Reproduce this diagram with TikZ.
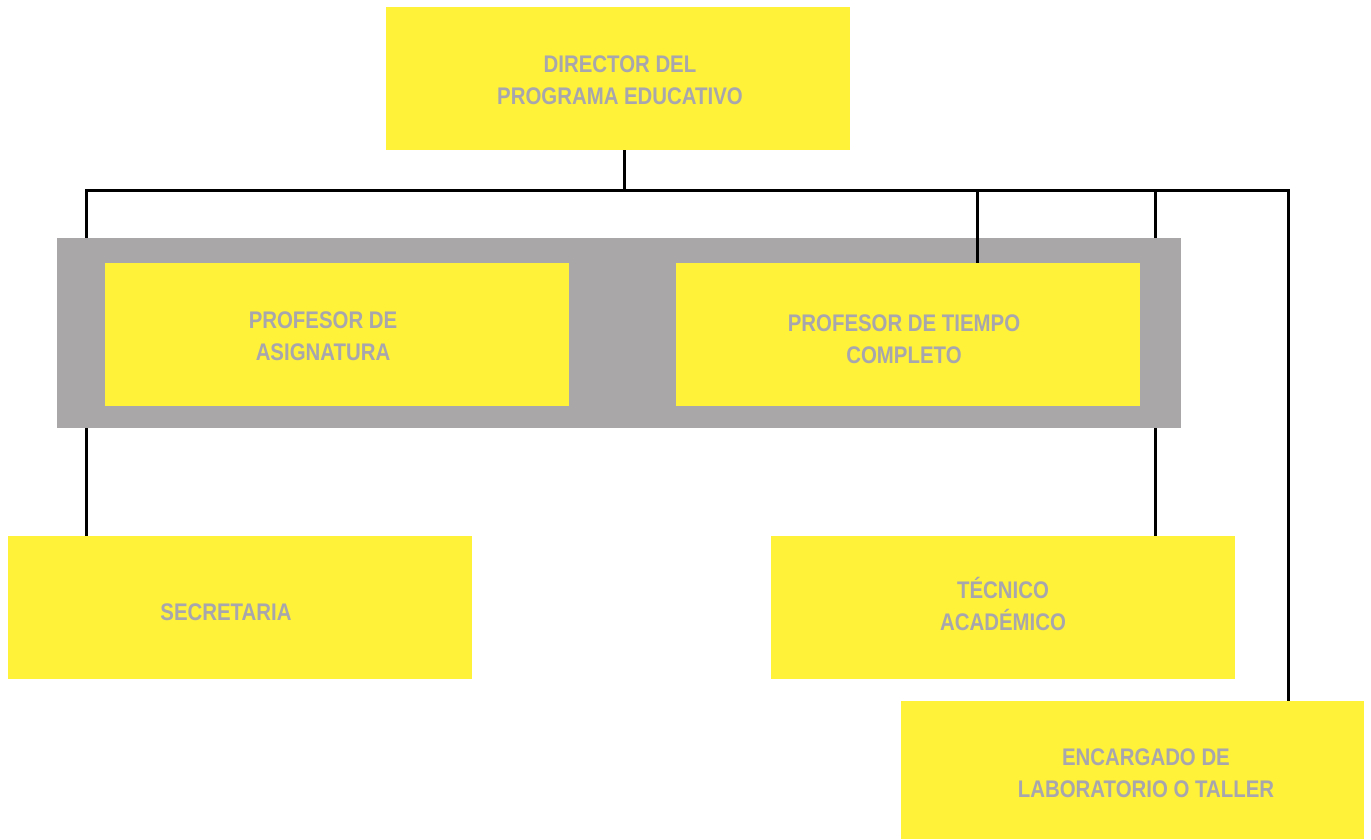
\documentclass[tikz,border=0pt]{standalone}
\usepackage{fontspec}
\setmainfont{Liberation Sans}[FakeStretch=0.85]
\definecolor{boxyellow}{HTML}{FFF238}
\definecolor{bandgray}{HTML}{A9A7A8}
\definecolor{txtgray}{HTML}{A7A5AE}
\begin{document}
\begin{tikzpicture}[x=1pt,y=-1pt,
  box/.style={fill=boxyellow,draw=none,inner sep=0pt,minimum width=464pt,minimum height=143pt},
  lbl/.style={text=txtgray,font=\fontsize{24}{32}\selectfont\bfseries,align=center,inner sep=0pt},
  link/.style={draw=black,line width=3pt}]
\useasboundingbox (0,0) rectangle (1371,839);
% gray band
\fill[bandgray] (57,238) rectangle (1181,428);
% boxes
\node[box,anchor=north west] (dir) at (386,7) {};
\node[box,anchor=north west] (asig) at (105,263) {};
\node[box,anchor=north west] (tiempo) at (676,263) {};
\node[box,anchor=north west] (sec) at (8,536) {};
\node[box,anchor=north west] (tec) at (771,536) {};
\node[box,anchor=north west,minimum width=463pt,minimum height=138pt] (enc) at (901,701) {};
% coordinates
\coordinate (bj) at (624,190);
\coordinate (bl) at (86,190);
\coordinate (br) at (1288,190);
\coordinate (b1) at (977,190);
\coordinate (b2) at (1155,190);
\coordinate (gtl) at (86,238);
\coordinate (gbl) at (86,428);
\coordinate (gtr) at (1155,238);
\coordinate (gbr) at (1155,428);
% connectors
\draw[link] (dir.south -| bj) -- (bj);
\draw[link,line cap=rect] (bl) -- (br);
\draw[link] (bl) -- (gtl);
\draw[link] (gbl) -- (sec.north -| gbl);
\draw[link] (b1) -- (tiempo.north -| b1);
\draw[link] (b2) -- (gtr);
\draw[link] (gbr) -- (tec.north -| gbr);
\draw[link] (br) -- (enc.north -| br);
% labels
\node[lbl] (tdir) at (620,80) {DIRECTOR DEL\\PROGRAMA EDUCATIVO};
\node[lbl] (tasig) at (323,336) {PROFESOR DE\\ASIGNATURA};
\node[lbl] (ttiempo) at (904,339) {PROFESOR DE TIEMPO\\COMPLETO};
\node[lbl] (tsec) at (226,612) {SECRETARIA};
\node[lbl] (ttec) at (1003,604) {TÉCNICO\\ACADÉMICO};
\node[lbl] (tenc) at (1146,773) {ENCARGADO DE\\LABORATORIO O TALLER};
\end{tikzpicture}
\end{document}
